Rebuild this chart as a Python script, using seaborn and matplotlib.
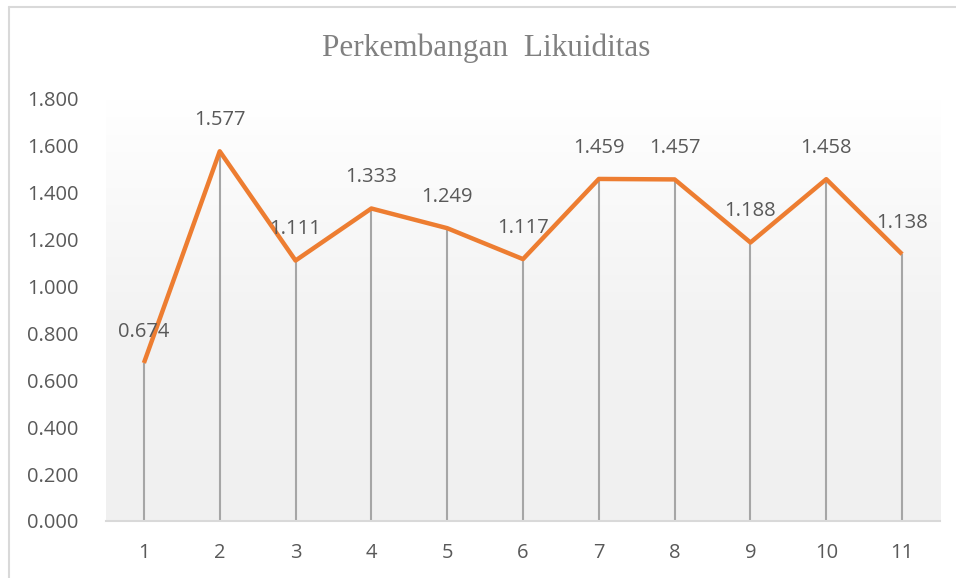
import numpy as np
import pandas as pd
import matplotlib
matplotlib.use("Agg")
import matplotlib.pyplot as plt
import seaborn as sns
from matplotlib.lines import Line2D
from matplotlib.colors import LinearSegmentedColormap

periods = [1, 2, 3, 4, 5, 6, 7, 8, 9, 10, 11]
values = [0.674, 1.577, 1.111, 1.333, 1.249, 1.117, 1.459, 1.457, 1.188, 1.458, 1.138]
yticks = [0.0, 0.2, 0.4, 0.6, 0.8, 1.0, 1.2, 1.4, 1.6, 1.8]
title = "Perkembangan  Likuiditas"

df = pd.DataFrame({"period": periods, "value": values})

sns.set_theme(style="white")
plt.rcParams["font.family"] = ["Open Sans", "DejaVu Sans"]

W, H = 956, 578
fig = plt.figure(figsize=(W / 100, H / 100), dpi=100)
left, right, top, bottom = 106, 940, 99, 521
ax = fig.add_axes([left / W, 1 - bottom / H, (right - left) / W, (bottom - top) / H])

# gradient background of plot area
grad = np.linspace(1.0, 0.0, 256).reshape(-1, 1)
cmap = LinearSegmentedColormap.from_list("g", ["#f0f0f0", "#f3f3f3", "#ffffff"], N=256)
ax.imshow(grad, extent=[0.5, 11.5, 0, 1.8], aspect="auto", cmap=cmap, vmin=0, vmax=1,
          zorder=0, origin="upper")

# drop lines
ax.vlines(df["period"], 0, df["value"], colors="#a6a6a6", linewidth=1.5, zorder=2)

sns.lineplot(data=df, x="period", y="value", ax=ax, color="#ED7D31", linewidth=3.2,
             zorder=3, solid_capstyle="butt")

for x, y in zip(periods, values):
    ax.annotate(f"{y:.3f}", (x, y), xytext=(0, 22.5), textcoords="offset points",
                ha="center", va="center", fontsize=14.5, color="#595959", zorder=4)

ax.set_xlim(0.5, 11.5)
ax.set_ylim(0, 1.8)
ax.set_xticks(periods)
ax.set_xticklabels([str(p) for p in periods])
ax.set_yticks(yticks)
ax.set_yticklabels([f"{t:.3f}" for t in yticks])
ax.tick_params(axis="x", length=0, pad=16, labelsize=14.5, labelcolor="#595959")
ax.tick_params(axis="y", length=0, pad=20, labelsize=14.5, labelcolor="#595959")
ax.set_xlabel("")
ax.set_ylabel("")
for s in ["left", "right", "top"]:
    ax.spines[s].set_visible(False)
ax.spines["bottom"].set_color("#d9d9d9")
ax.spines["bottom"].set_linewidth(1.5)
ax.set_facecolor("white")

fig.text(486 / W, 1 - 48 / H, title, ha="center", va="center", fontsize=22.5,
         color="#808080", family=["Liberation Serif", "DejaVu Serif"])

# chart border (left and top visible)
fig.add_artist(Line2D([9 / W, 9 / W], [0, 1 - 7 / H], transform=fig.transFigure,
                      color="#d9d9d9", linewidth=1.5))
fig.add_artist(Line2D([9 / W, 1], [1 - 7 / H, 1 - 7 / H], transform=fig.transFigure,
                      color="#d9d9d9", linewidth=1.5))

fig.savefig("out.png", dpi=100)
